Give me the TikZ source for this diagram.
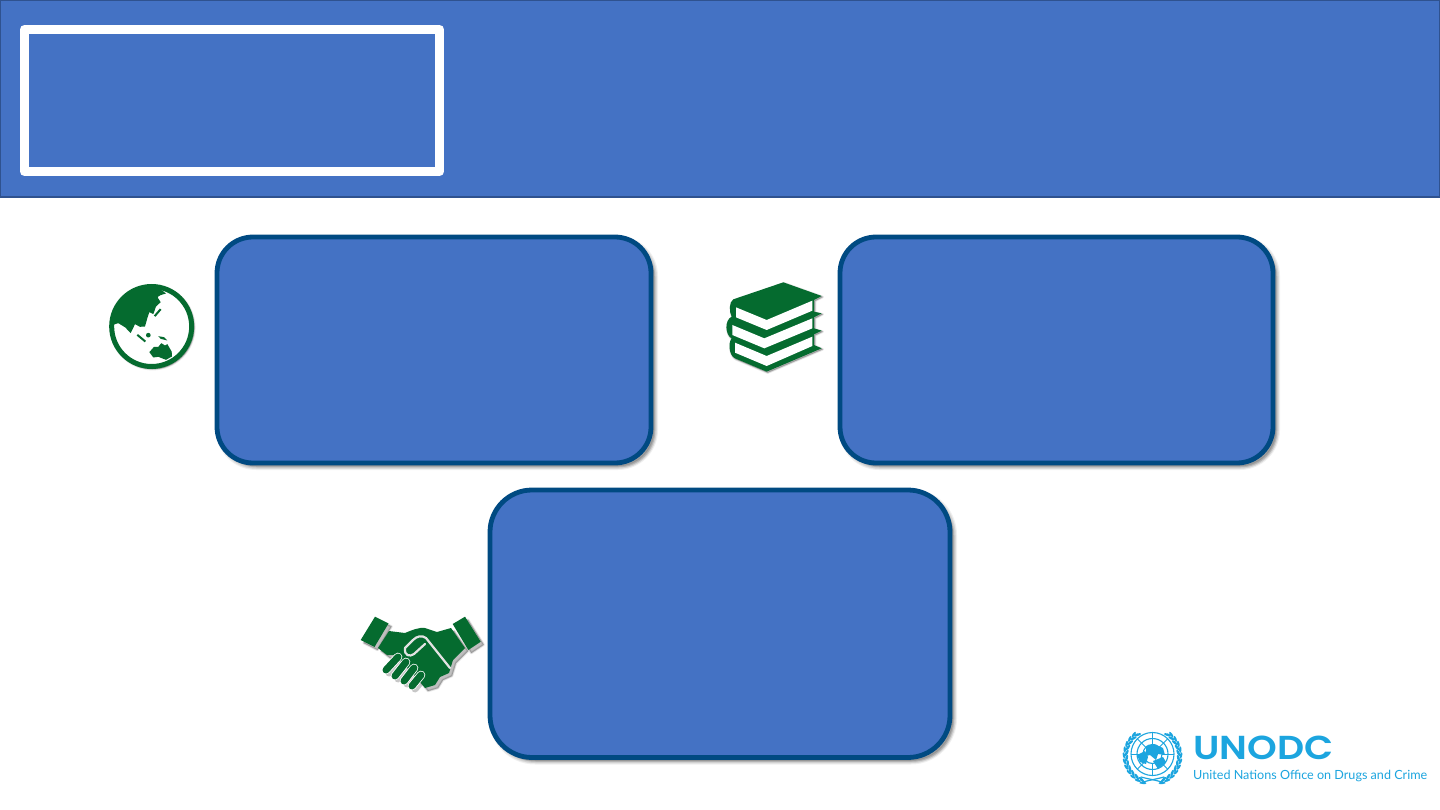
\documentclass[tikz,border=0pt]{standalone}
\usepackage{graphicx}
\usepackage{fontspec}
\newfontfamily\logobold{Poppins}[UprightFont=* SemiBold]
\newfontfamily\logolight{Lato}
\definecolor{hdr}{HTML}{4472C4}
\definecolor{hdredge}{HTML}{2F528F}
\definecolor{boxedge}{HTML}{004A82}
\definecolor{icon}{HTML}{056B2F}
\definecolor{unblue}{HTML}{1CA5DF}
\tikzset{
  x=1pt,y=-1pt,
  panel/.style={fill=hdr,draw=boxedge,line width=4.8pt},
  soft/.style={fill=black,draw=black,fill opacity=.06,draw opacity=.06,line join=round},
  softer/.style={fill=black,draw=black,fill opacity=.09,draw opacity=.09,line join=round},
  iconfill/.style={fill=icon,draw=none},
  leaf/.style={fill=unblue,draw=none},
  ringline/.style={draw=unblue,line width=1.1pt}
}
\newcommand{\softshadow}[1]{%
  \foreach \w/\d in {8/3,6/3,4/3.5,2/3.5,0.5/4}{
    \path[soft,line width=\w pt,shift={(\d,\d)}] #1;
  }%
}
\newcommand{\iconshadow}[1]{%
  \foreach \w/\d in {2.5/3,1.2/3,0.2/3}{
    \path[softer,line width=\w pt,shift={(\d,\d)}] #1;
  }%
}
\newcommand{\panelbox}[5]{% x1,y1,x2,y2,r
  \softshadow{[rounded corners=#5pt] (#1,#2) rectangle (#3,#4)}
  \path[panel,rounded corners=#5pt] (#1,#2) rectangle (#3,#4);
}
\begin{document}
\begin{tikzpicture}
\useasboundingbox (0,0) rectangle (1440,810);
\fill[white] (0,0) rectangle (1440,810);
% header
\path[fill=hdr,draw=hdredge,line width=1.2pt] (0.5,0.5) rectangle (1439.5,197);
\draw[white,line width=9pt,line join=round] (24.5,29.5) rectangle (439.5,171.5);
% panels
\panelbox{217}{237}{651}{463}{36}
\panelbox{840}{237}{1273}{463}{36}
\panelbox{490}{490}{950}{757.5}{42}
% globe
\begin{scope}[shift={(90,271.5)},scale=1/3]
  \iconshadow{(185,165) circle (125)}
  \path[fill=white] (185,165) circle (125);
  \draw[icon,line width=5pt] (185,165) circle (120);
  \path[iconfill] (228,66) .. controls (215,70) and (205,72) .. (203,78)
     -- (212,92) -- (198,105) -- (190,128) -- (178,122) -- (172,140)
     -- (165,165) -- (150,166) -- (135,158) -- (122,185) -- (106,168)
     -- (85,155) -- (62,162)
     .. controls (62,100) and (130,45) .. (185,45) .. controls (200,45) and (215,55) .. (228,66) -- cycle;
  \draw[icon,line width=2pt] (194,134) -- (212,113);
  \draw[icon,line width=2pt] (142,190) -- (166,210);
  \path[iconfill] (175,191) circle (7);
  \path[iconfill] (205,194) -- (222,197) -- (232,207) -- (212,202) -- cycle;
  \path[iconfill] (178,242) -- (192,226) -- (205,226) -- (214,215) -- (225,222) -- (232,218)
     -- (245,240) -- (246,255) -- (228,265) -- (205,256) -- (190,258) -- cycle;
\end{scope}
% books
\begin{scope}[shift={(715,270)},scale=1/3]
  \iconshadow{(205,37) -- (320,78) -- (297,90) -- (297,125) -- (320,130) -- (297,142) -- (297,175) -- (320,182) -- (297,193) -- (297,225) -- (320,235) -- (155,305) -- (60,265) .. controls (40,255) and (40,215) .. (50,205) .. controls (30,195) and (28,150) .. (50,140) .. controls (42,125) and (42,95) .. (55,88) -- cycle}
  \path[iconfill] (205,37) -- (320,78) -- (297,90) -- (297,125) -- (320,130) -- (297,142) -- (297,175) -- (320,182) -- (297,193) -- (297,225) -- (320,235) -- (155,305) -- (60,265) .. controls (40,255) and (40,215) .. (50,205) .. controls (30,195) and (28,150) .. (50,140) .. controls (42,125) and (42,95) .. (55,88) -- cycle;
  \path[fill=white] (63,112) -- (155,150) -- (292,92) -- (292,122) -- (155,180) -- (63,142) -- cycle;
  \path[fill=white] (52,165) -- (148,205) -- (292,145) -- (292,175) -- (148,235) -- (52,195) -- cycle;
  \path[fill=white] (60,218) -- (155,258) -- (292,200) -- (292,228) -- (155,288) -- (60,248) -- cycle;
\end{scope}
% handshake
\iconshadow{(360.7,640) -- (375,616.7) -- (388.5,623.5) -- (374.5,647) -- cycle}
\iconshadow{(452.7,624) -- (465,616.7) -- (480.7,641.7) -- (468.3,650) -- cycle}
\iconshadow{(389,631) -- (405,633) -- (425,628) -- (437,632) -- (451,628) -- (465,648) -- (453,660) -- (449,673) -- (440,677) -- (435,685) -- (425,688) -- (415,676) -- (395,655) -- (387,655) -- (378,648) -- cycle}
\foreach \a/\b/\c/\d in {398/657/386/670, 406/662/395/676, 414/668/404/681, 421/675/412/686}{
  \draw[black,opacity=.22,line width=7pt,line cap=round,shift={(3,3)}] (\a,\b) -- (\c,\d);
}
\path[iconfill] (360.7,640) -- (375,616.7) -- (388.5,623.5) -- (374.5,647) -- cycle;
\path[iconfill] (452.7,624) -- (465,616.7) -- (480.7,641.7) -- (468.3,650) -- cycle;
\path[iconfill] (389,631) -- (405,633) .. controls (412,630) and (420,627) .. (425,628)
   -- (437,632) -- (451,628) -- (465,648) -- (453,660) -- (449,673) -- (440,677) -- (435,685)
   -- (425,688) -- (415,676) -- (395,655) -- (387,655) -- (378,648) -- cycle;
\draw[white!78!gray,line width=2.2pt,line cap=round,line join=round]
   (450,668) -- (426,638) .. controls (422,635) and (417,636) .. (413,640)
   -- (405,648) .. controls (404,656) and (410,657) .. (414,654) -- (425,644);
\foreach \a/\b/\c/\d in {398/657/386/670, 406/662/395/676, 414/668/404/681, 421/675/412/686}{
  \draw[white,line width=8.6pt,line cap=round] (\a,\b) -- (\c,\d);
}
\foreach \a/\b/\c/\d in {398/657/386/670, 406/662/395/676, 414/668/404/681, 421/675/412/686}{
  \draw[icon,line width=7pt,line cap=round] (\a,\b) -- (\c,\d);
}
% logo emblem
\def\cx{1152.5} \def\cy{754}
\foreach \r in {21.5,15.5,9.5}{ \path[ringline] (\cx,\cy) circle (\r); }
\foreach \a in {0,45,...,315}{ \path[ringline,line width=.9pt] ({\cx+9.5*cos(\a)},{\cy+9.5*sin(\a)}) -- ({\cx+21.5*cos(\a)},{\cy+21.5*sin(\a)}); }
\path[fill=unblue] (1146,746) -- (1154,744) -- (1163,748) -- (1165,755) -- (1158,754) -- (1156,760) -- (1150,755) -- (1146,756) -- cycle;
\path[fill=unblue] (1137,755) -- (1145,751) -- (1148,757) -- (1146,764) -- (1140,762) -- cycle;
\path[fill=unblue] (1153,761) -- (1163,757) -- (1166,762) -- (1158,769) -- cycle;
\foreach \a in {125,137,...,245}{
  \path[leaf,shift={({\cx+26*cos(\a)},{\cy+2-26*sin(\a)})},rotate=\a+70] (0,0) ellipse (3.6 and 1.3);
  \path[leaf,shift={({\cx+28.5*cos(\a+6)},{\cy+2-28.5*sin(\a+6)})},rotate=\a+110] (0,0) ellipse (3.2 and 1.2);
}
\foreach \a in {-65,-53,...,55}{
  \path[leaf,shift={({\cx+26*cos(\a)},{\cy+2-26*sin(\a)})},rotate=\a+110] (0,0) ellipse (3.6 and 1.3);
  \path[leaf,shift={({\cx+28.5*cos(\a-6)},{\cy+2-28.5*sin(\a-6)})},rotate=\a+70] (0,0) ellipse (3.2 and 1.2);
}
\draw[unblue,line width=1.2pt,line cap=round] (1141,777) .. controls (1148,779) and (1156,780) .. (1165,783);
\draw[unblue,line width=1.2pt,line cap=round] (1164,777) .. controls (1157,779) and (1149,780) .. (1140,783);
\node[anchor=base west,inner sep=0pt,text=unblue] (unodc) at (1193,759)
  {\resizebox{140pt}{23.5pt}{\logobold UNODC}};
\node[anchor=base west,inner sep=0pt,text=unblue,font=\logolight\fontsize{12.6}{13}\selectfont] (unodcsub) at (1193,779.5) {United Nations Office on Drugs and Crime};
\end{tikzpicture}
\end{document}
